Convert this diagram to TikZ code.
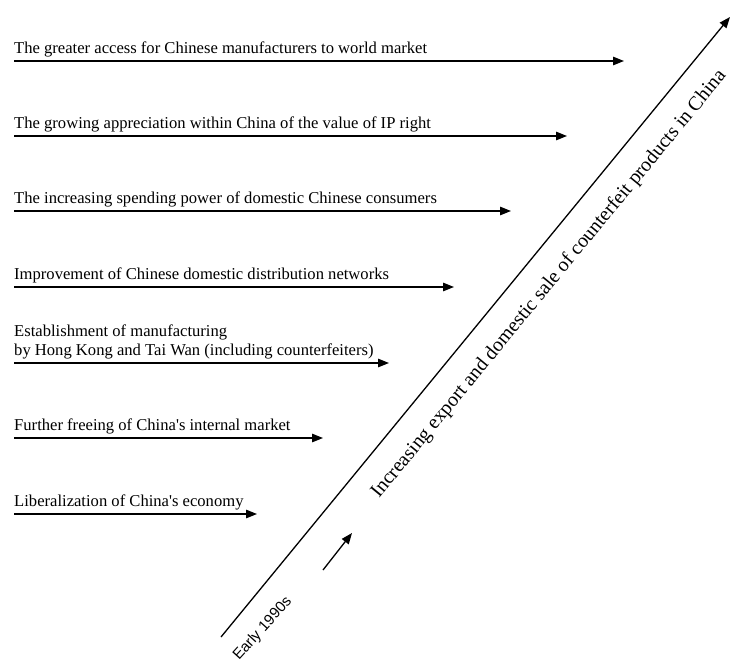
\documentclass[tikz,border=0pt]{standalone}
\usepackage{fontspec}
\setmainfont{Liberation Serif}
\newfontfamily\labelsans{Liberation Sans}
\usetikzlibrary{arrows.meta}
\begin{document}
\begin{tikzpicture}[x=1pt,y=-1pt,
  cause/.style={font=\fontsize{16.6}{19}\selectfont, anchor=base west, inner sep=0pt},
  flow/.style={line width=1.3pt, -{Triangle[length=11pt,width=8.5pt]}},
]
\useasboundingbox (0,0) rectangle (731,662);

% driving factors, each with its own arrow towards the trend line
\coordinate (s1) at (14,61);  \coordinate (e1) at (624,61);
\coordinate (s2) at (14,136); \coordinate (e2) at (567,136);
\coordinate (s3) at (14,211); \coordinate (e3) at (511,211);
\coordinate (s4) at (14,287); \coordinate (e4) at (454,287);
\coordinate (s5) at (14,363); \coordinate (e5) at (389,363);
\coordinate (s6) at (14,438); \coordinate (e6) at (323,438);
\coordinate (s7) at (14,514); \coordinate (e7) at (257,514);

\node[cause] (t1) at (14,53)  {The greater access for Chinese manufacturers to world market};
\node[cause] (t2) at (14,128) {The growing appreciation within China of the value of IP right};
\node[cause] (t3) at (14,203) {The increasing spending power of domestic Chinese consumers};
\node[cause] (t4) at (14,279) {Improvement of Chinese domestic distribution networks};
\node[cause] (t5a) at (14,336) {Establishment of manufacturing};
\node[cause] (t5b) at (14,355) {by Hong Kong and Tai Wan (including counterfeiters)};
\node[cause] (t6) at (14,430) {Further freeing of China\textquotesingle s internal market};
\node[cause] (t7) at (14,506) {Liberalization of China\textquotesingle s economy};

\foreach \i in {1,...,7} { \draw[flow] (s\i) -- (e\i); }

% the trend line itself
\coordinate (d0) at (221,637);
\coordinate (d1) at (730,17);
\draw[flow] (d0) -- (d1);

\node[rotate=50.6, anchor=base west, inner sep=0pt, font=\fontsize{20}{24}\selectfont] (trend)
  at (379,499) {Increasing export and domestic sale of counterfeit products in China};

\node[rotate=48, anchor=base west, inner sep=0pt, font=\labelsans\fontsize{15}{18}\selectfont] (start)
  at (239,661) {Early 1990s};

% direction of time
\coordinate (a0) at (323,570);
\coordinate (a1) at (352,533);
\draw[flow] (a0) -- (a1);
\end{tikzpicture}
\end{document}
